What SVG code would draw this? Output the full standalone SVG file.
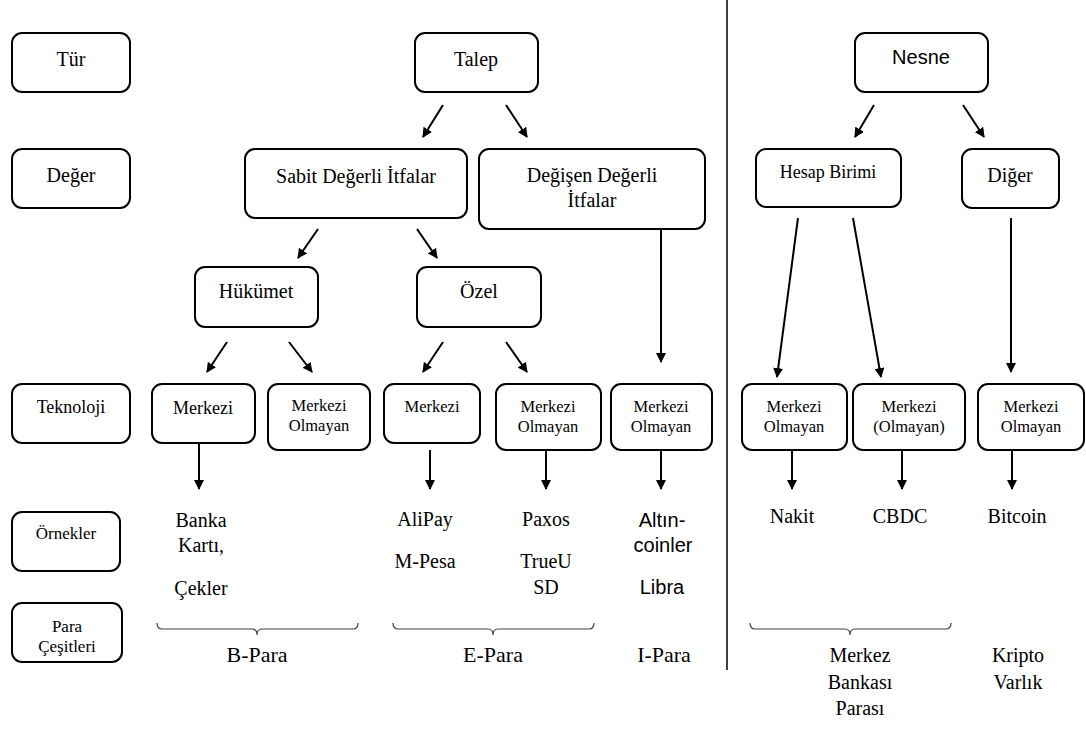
<svg xmlns="http://www.w3.org/2000/svg" width="1086" height="734" viewBox="0 0 1086 734">
<defs>
<style>
.box{fill:#fff;stroke:#000;stroke-width:2}
.t{font-family:"Liberation Serif","Times New Roman",serif;fill:#000;text-anchor:middle}
.s{font-family:"Liberation Sans",Arial,sans-serif;fill:#000;text-anchor:middle}
.f20{font-size:20px}
.f22{font-size:22px}
.f18{font-size:18px}
.f17{font-size:17px}
.f16{font-size:16.5px}
.arr{stroke:#000;stroke-width:2;fill:none;marker-end:url(#ah)}
.brace{stroke:#444;stroke-width:1.2;fill:none}
</style>
<marker id="ah" viewBox="0 0 10 10" refX="9" refY="5" markerWidth="5" markerHeight="5" orient="auto" markerUnits="strokeWidth">
<path d="M0,0 L10,5 L0,10 z" fill="#000"/>
</marker>
</defs>
<rect width="1086" height="734" fill="#fff"/>

<g id="labels-left">
<g id="tur"><rect class="box" x="12" y="33" width="118" height="59" rx="10"/><text class="t f20" x="71" y="66">Tür</text></g>
<g id="deger"><rect class="box" x="12" y="149" width="118" height="59" rx="10"/><text class="t f20" x="71" y="182">Değer</text></g>
<g id="teknoloji"><rect class="box" x="12" y="384" width="118" height="59" rx="10"/><text class="t f18" x="71" y="413">Teknoloji</text></g>
<g id="ornekler"><rect class="box" x="12" y="512" width="108" height="59" rx="10"/><text class="t f17" x="66" y="539">Örnekler</text></g>
<g id="paracesit"><rect class="box" x="12" y="603" width="110" height="59" rx="10"/><text class="t f17" x="67" y="632">Para</text><text class="t f17" x="67" y="652">Çeşitleri</text></g>
</g>

<g id="talep"><rect class="box" x="415" y="33" width="123" height="59" rx="10"/><text class="t f20" x="476" y="66">Talep</text></g>
<g id="sabit"><rect class="box" x="245" y="149" width="222" height="69" rx="10"/><text class="t f20" x="356" y="183">Sabit Değerli İtfalar</text></g>
<g id="degisen"><rect class="box" x="479" y="149" width="226" height="80" rx="10"/><text class="t f20" x="592" y="182">Değişen Değerli</text><text class="t f20" x="592" y="207">İtfalar</text></g>
<g id="hukumet"><rect class="box" x="195" y="267" width="123" height="60" rx="10"/><text class="t f20" x="256" y="298">Hükümet</text></g>
<g id="ozel"><rect class="box" x="417" y="267" width="124" height="60" rx="10"/><text class="t f20" x="479" y="298">Özel</text></g>

<g id="hk-merkezi"><rect class="box" x="152" y="384" width="103" height="59" rx="10"/><text class="t f18" x="203" y="414">Merkezi</text></g>
<g id="hk-mo"><rect class="box" x="268" y="384" width="102" height="66" rx="10"/><text class="t f16" x="319" y="411">Merkezi</text><text class="t f16" x="319" y="431">Olmayan</text></g>
<g id="oz-merkezi"><rect class="box" x="384" y="384" width="96" height="59" rx="10"/><text class="t f16" x="432" y="412">Merkezi</text></g>
<g id="oz-mo"><rect class="box" x="496" y="384" width="105" height="66" rx="10"/><text class="t f16" x="548" y="412">Merkezi</text><text class="t f16" x="548" y="432">Olmayan</text></g>
<g id="ip-mo"><rect class="box" x="611" y="384" width="101" height="66" rx="10"/><text class="t f16" x="661" y="412">Merkezi</text><text class="t f16" x="661" y="432">Olmayan</text></g>

<g id="nesne"><rect class="box" x="855" y="33" width="133" height="59" rx="10"/><text class="s f20" x="921" y="64">Nesne</text></g>
<g id="hesap"><rect class="box" x="756" y="149" width="145" height="58" rx="10"/><text class="t f18" x="828" y="178">Hesap Birimi</text></g>
<g id="diger"><rect class="box" x="962" y="149" width="97" height="59" rx="10"/><text class="t f20" x="1010" y="182">Diğer</text></g>
<g id="nk-mo"><rect class="box" x="742" y="384" width="105" height="66" rx="10"/><text class="t f16" x="794" y="412">Merkezi</text><text class="t f16" x="794" y="432">Olmayan</text></g>
<g id="cb-mo"><rect class="box" x="853" y="384" width="112" height="66" rx="10"/><text class="t f16" x="909" y="412">Merkezi</text><text class="t f16" x="909" y="432">(Olmayan)</text></g>
<g id="bt-mo"><rect class="box" x="978" y="384" width="106" height="66" rx="10"/><text class="t f16" x="1031" y="412">Merkezi</text><text class="t f16" x="1031" y="432">Olmayan</text></g>

<g id="examples">
<text class="t f20" x="201" y="527">Banka</text>
<text class="t f20" x="201" y="552">Kartı,</text>
<text class="t f20" x="201" y="595">Çekler</text>
<text class="t f20" x="425" y="526">AliPay</text>
<text class="t f20" x="425" y="568">M-Pesa</text>
<text class="t f20" x="546" y="526">Paxos</text>
<text class="t f20" x="546" y="568">TrueU</text>
<text class="t f20" x="546" y="594">SD</text>
<text class="s f20" x="662" y="527">Altın-</text>
<text class="s f20" x="663" y="552">coinler</text>
<text class="s f20" x="662" y="594">Libra</text>
<text class="t f20" x="792" y="523">Nakit</text>
<text class="t f20" x="900" y="523">CBDC</text>
<text class="t f20" x="1017" y="523">Bitcoin</text>
</g>

<g id="types">
<path class="brace" d="M157,623 Q157,629 162,629 L252,629 Q257,629 257,635 Q257,629 262,629 L353,629 Q358,629 358,623"/>
<path class="brace" d="M393,623 Q393,629 398,629 L488,629 Q493,629 493,635 Q493,629 498,629 L589,629 Q594,629 594,623"/>
<path class="brace" d="M750,623 Q750,629 755,629 L845,629 Q850,629 850,635 Q850,629 855,629 L946,629 Q951,629 951,623"/>
<text class="t f22" x="257" y="662">B-Para</text>
<text class="t f22" x="493" y="662">E-Para</text>
<text class="t f22" x="664" y="662">I-Para</text>
<text class="t f20" x="860" y="662">Merkez</text>
<text class="t f20" x="860" y="689">Bankası</text>
<text class="t f20" x="860" y="715">Parası</text>
<text class="t f20" x="1018" y="662">Kripto</text>
<text class="t f20" x="1018" y="689">Varlık</text>
</g>

<g id="connectors">
<line x1="727" y1="0" x2="727" y2="670" stroke="#000" stroke-width="1.5"/>
<line class="arr" x1="443" y1="105" x2="423" y2="137"/>
<line class="arr" x1="506" y1="105" x2="527" y2="137"/>
<line class="arr" x1="318" y1="229" x2="298" y2="258"/>
<line class="arr" x1="417" y1="229" x2="437" y2="258"/>
<line class="arr" x1="227" y1="342" x2="207" y2="372"/>
<line class="arr" x1="289" y1="342" x2="312" y2="372"/>
<line class="arr" x1="443" y1="342" x2="423" y2="372"/>
<line class="arr" x1="506" y1="342" x2="527" y2="372"/>
<line class="arr" x1="661" y1="229" x2="661" y2="362"/>
<line class="arr" x1="874" y1="105" x2="855" y2="137"/>
<line class="arr" x1="963" y1="105" x2="984" y2="137"/>
<line class="arr" x1="798" y1="218" x2="777" y2="377"/>
<line class="arr" x1="853" y1="218" x2="881" y2="377"/>
<line class="arr" x1="1011" y1="218" x2="1011" y2="372"/>
<line class="arr" x1="199" y1="443" x2="199" y2="489"/>
<line class="arr" x1="430" y1="450" x2="430" y2="489"/>
<line class="arr" x1="546" y1="450" x2="546" y2="489"/>
<line class="arr" x1="661" y1="450" x2="661" y2="489"/>
<line class="arr" x1="792" y1="450" x2="792" y2="489"/>
<line class="arr" x1="902" y1="450" x2="902" y2="489"/>
<line class="arr" x1="1012" y1="450" x2="1012" y2="489"/>
</g>
</svg>
